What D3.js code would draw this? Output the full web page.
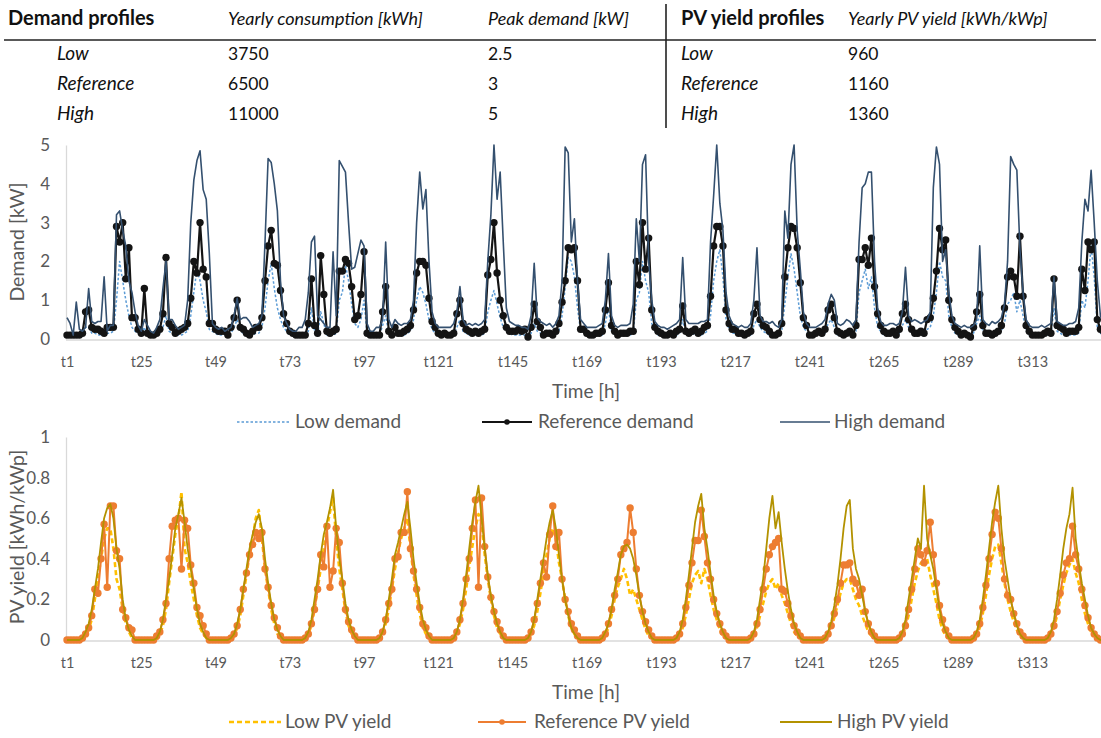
<!DOCTYPE html>
<html>
<head>
<meta charset="utf-8">
<script src="https://cdn.jsdelivr.net/npm/d3@7/dist/d3.min.js"></script>
<style>
	body{margin:0;background:#fff;}
	svg{display:block;font-family:Lato,'Open Sans',sans-serif;}
</style>
</head>
<body>
<div id="container"></div>
<script>
// ---- table ----
var demandHeader = ['Demand profiles','Yearly consumption [kWh]','Peak demand [kW]'];
var pvHeader = ['PV yield profiles','Yearly PV yield [kWh/kWp]'];
var profileNames = ['Low','Reference','High'];
var yearlyConsumption = ['3750','6500','11000'];
var peakDemand = ['2.5','3','5'];
var yearlyPv = ['960','1160','1360'];

// ---- axes ----
var xTickLabels = ['t1','t25','t49','t73','t97','t121','t145','t169','t193','t217','t241','t265','t289','t313'];
var demandTicks = [0,1,2,3,4,5];
var pvTicks = [0,0.2,0.4,0.6,0.8,1];

// ---- hourly demand [kW], one row per day ----
var demandLow = [
	0.1,0.1,0.1,0.1,0.1,0.1,0.3,0.3,0.15,0.15,0.1,0.1,0.1,0.15,0.15,0.2,1.0,2.0,1.5,1.0,0.6,0.3,0.2,0.15,
	0.1,0.3,0.1,0.1,0.1,0.1,0.15,0.3,0.6,0.2,0.15,0.1,0.1,0.1,0.15,0.2,0.6,1.2,1.8,1.5,1.0,0.7,0.25,0.2,
	0.15,0.1,0.1,0.1,0.1,0.15,0.3,0.5,0.2,0.15,0.1,0.1,0.1,0.15,0.15,0.3,0.8,1.5,1.95,1.3,0.8,0.5,0.3,0.2,
	0.1,0.1,0.1,0.1,0.1,0.1,0.2,0.8,0.2,0.1,0.7,0.4,0.1,0.1,0.1,0.15,1.0,1.2,1.9,1.5,0.9,0.4,0.3,0.5,
	1.0,0.1,0.1,0.1,0.1,0.1,0.35,0.6,0.15,0.1,0.15,0.1,0.1,0.1,0.15,0.2,0.5,1.0,1.35,1.2,0.9,0.5,0.25,0.15,
	0.1,0.1,0.1,0.1,0.1,0.1,0.3,0.5,0.2,0.15,0.1,0.1,0.1,0.1,0.1,0.15,0.7,1.0,1.25,0.9,0.55,0.3,0.2,0.15,
	0.1,0.1,0.1,0.1,0.1,0.05,0.15,0.4,0.2,0.15,0.1,0.1,0.1,0.1,0.1,0.2,0.6,1.3,2.1,2.0,1.6,0.8,0.2,0.15,
	0.1,0.1,0.1,0.1,0.1,0.1,0.4,0.8,0.2,0.1,0.1,0.1,0.1,0.1,0.1,0.15,1.0,1.2,2.0,1.5,1.2,0.4,0.2,0.1,
	0.1,0.1,0.1,0.1,0.1,0.1,0.15,0.5,0.15,0.1,0.1,0.15,0.1,0.1,0.15,0.2,0.6,1.5,2.0,2.3,1.6,0.5,0.25,0.15,
	0.15,0.1,0.1,0.1,0.1,0.1,0.35,0.5,0.3,0.2,0.15,0.1,0.1,0.1,0.1,0.2,0.9,1.6,2.2,1.8,1.2,0.6,0.3,0.2,
	0.1,0.1,0.1,0.1,0.1,0.15,0.4,0.5,0.3,0.1,0.1,0.1,0.1,0.1,0.1,0.2,1.2,1.5,1.8,1.3,1.6,0.8,0.3,0.2,
	0.1,0.1,0.1,0.1,0.1,0.15,0.35,0.5,0.3,0.15,0.1,0.1,0.1,0.1,0.25,0.3,0.6,1.2,2.0,1.6,1.5,0.6,0.3,0.15,
	0.1,0.1,0.1,0.1,0.05,0.15,0.4,0.6,0.2,0.1,0.1,0.1,0.1,0.1,0.2,0.4,0.9,1.0,1.2,0.7,1.0,0.6,0.2,0.1,
	0.1,0.1,0.1,0.1,0.1,0.1,0.1,0.8,0.2,0.15,0.1,0.1,0.1,0.1,0.1,0.15,1.0,0.8,1.5,2.4,1.6,0.3,0.15,0.1
];
var demandRef = [
	0.1,0.1,0.1,0.1,0.1,0.15,0.7,0.75,0.3,0.25,0.25,0.2,0.15,0.3,0.3,0.3,2.9,2.5,3.0,1.55,2.35,0.55,0.55,0.25,
	0.15,1.3,0.15,0.1,0.1,0.15,0.25,0.65,2.1,0.4,0.3,0.15,0.2,0.25,0.3,0.4,1.05,2.0,1.7,3.0,1.8,1.6,0.4,0.4,
	0.25,0.2,0.2,0.2,0.1,0.3,0.55,1.0,0.3,0.25,0.15,0.1,0.2,0.3,0.3,0.55,1.5,2.4,2.8,1.95,1.9,1.25,0.65,0.4,
	0.2,0.15,0.1,0.1,0.1,0.1,0.4,1.55,0.35,0.15,2.15,1.15,0.2,0.15,0.2,0.25,1.75,1.75,2.05,1.95,1.35,0.5,0.6,1.15,
	2.25,0.15,0.1,0.1,0.1,0.1,0.7,1.35,0.2,0.1,0.3,0.15,0.15,0.2,0.25,0.35,0.75,1.7,2.0,2.0,1.9,1.05,0.45,0.3,
	0.15,0.1,0.15,0.1,0.1,0.15,0.65,1.0,0.4,0.25,0.2,0.15,0.2,0.15,0.2,0.25,1.65,2.05,3.0,1.7,1.0,0.6,0.3,0.2,
	0.2,0.2,0.25,0.2,0.25,0.05,0.3,0.9,0.45,0.3,0.1,0.15,0.15,0.1,0.2,0.4,0.95,1.5,2.35,2.3,2.35,1.5,0.25,0.25,
	0.15,0.1,0.1,0.15,0.15,0.2,0.75,1.45,0.35,0.2,0.1,0.15,0.15,0.15,0.2,0.2,2.0,1.4,3.0,1.8,2.6,0.75,0.3,0.2,
	0.15,0.1,0.1,0.15,0.1,0.2,0.25,0.85,0.2,0.15,0.2,0.25,0.15,0.2,0.3,0.35,1.1,2.4,2.9,2.9,2.4,0.75,0.4,0.25,
	0.25,0.15,0.15,0.1,0.15,0.2,0.65,0.9,0.5,0.35,0.3,0.2,0.1,0.1,0.15,0.4,1.6,2.35,2.9,2.85,2.35,1.45,0.55,0.35,
	0.1,0.1,0.15,0.2,0.15,0.25,0.75,0.9,0.55,0.2,0.15,0.1,0.15,0.2,0.1,0.35,2.05,2.05,2.35,1.9,2.6,1.35,0.65,0.35,
	0.2,0.15,0.15,0.2,0.1,0.25,0.65,0.9,0.5,0.25,0.15,0.15,0.2,0.15,0.5,0.55,1.05,1.75,2.85,2.3,2.55,1.0,0.5,0.3,
	0.2,0.1,0.15,0.1,0.05,0.3,0.7,1.15,0.35,0.15,0.15,0.1,0.15,0.2,0.35,0.8,1.6,1.75,1.6,1.1,2.65,1.1,0.35,0.2,
	0.1,0.1,0.1,0.1,0.15,0.2,0.15,1.55,0.35,0.3,0.25,0.15,0.2,0.2,0.2,0.3,1.8,1.25,2.5,2.3,2.5,0.5,0.25,0.2
];
var demandHigh = [
	0.55,0.4,0.1,0.95,0.25,0.2,0.3,1.3,0.45,0.4,0.45,0.45,1.6,0.2,0.35,0.35,3.2,3.3,2.8,2.4,1.5,1.2,0.7,0.35,
	0.2,0.5,0.35,0.2,0.15,0.3,0.5,1.3,2.0,0.5,0.5,0.35,0.25,0.3,0.35,1.0,3.0,4.1,4.6,4.85,3.85,3.6,2.2,0.4,
	0.3,0.25,0.3,0.2,0.25,0.3,0.6,1.05,0.5,0.55,0.55,0.45,0.3,0.35,0.4,0.6,2.5,4.65,4.55,4.0,3.3,1.5,0.6,0.4,
	0.25,0.2,0.2,0.3,0.3,0.5,1.2,2.5,2.65,0.6,0.5,0.4,0.3,0.3,2.25,0.6,4.6,4.45,4.3,3.0,1.8,1.85,2.2,2.55,
	2.4,0.4,0.2,0.2,0.3,0.3,0.5,2.5,0.5,0.3,0.5,0.4,0.35,0.4,0.4,0.5,1.0,3.0,4.3,3.35,3.85,2.0,0.7,0.4,
	0.3,0.3,0.3,0.3,0.3,0.4,0.7,1.35,0.5,0.35,0.4,0.35,0.4,0.35,0.4,0.5,2.0,3.2,5.0,3.6,4.3,2.5,0.8,0.45,
	0.4,0.35,0.35,0.3,0.3,0.25,0.6,1.95,0.55,0.45,0.4,0.35,0.4,0.3,0.4,0.6,1.5,4.95,4.8,2.5,3.1,1.5,0.5,0.4,
	0.3,0.3,0.3,0.3,0.35,0.4,1.0,2.2,0.6,0.35,0.3,0.35,0.35,0.35,0.4,0.9,3.1,2.0,4.5,4.75,2.0,1.0,0.45,0.35,
	0.3,0.3,0.25,0.3,0.35,0.4,0.5,2.1,0.5,0.4,0.4,0.4,0.4,0.45,0.45,0.5,2.5,3.7,5.0,3.5,2.8,1.2,0.6,0.4,
	0.35,0.3,0.35,0.3,0.3,0.4,1.0,2.35,0.6,0.45,0.45,0.4,0.45,0.35,0.3,0.5,3.3,2.6,4.5,5.0,2.8,1.8,0.7,0.4,
	0.3,0.3,0.3,0.35,0.4,0.5,0.9,1.15,1.0,0.4,0.35,0.4,0.5,0.45,0.35,0.5,2.5,3.9,4.0,4.3,4.3,2.0,0.8,0.45,
	0.35,0.35,0.4,0.4,0.35,0.4,0.7,1.85,0.6,0.45,0.5,0.45,0.4,0.45,0.5,0.7,3.9,4.95,4.5,2.0,2.3,1.2,0.6,0.4,
	0.35,0.3,0.35,0.3,0.3,0.35,0.5,2.4,0.5,0.4,0.35,0.45,0.4,0.45,0.55,0.9,2.0,4.7,4.5,4.35,2.3,1.2,0.5,0.35,
	0.3,0.3,0.3,0.35,0.3,0.35,0.4,1.6,0.45,0.4,0.35,0.35,0.4,0.4,0.45,0.8,2.5,3.6,3.3,4.35,3.0,1.5,0.6,0.4
];

// ---- hourly PV yield [kWh/kWp], one row per day ----
var pvLow = [
	0,0,0,0,0,0,0.02,0.05,0.1,0.2,0.3,0.4,0.5,0.55,0.55,0.45,0.3,0.25,0.15,0.08,0.04,0.01,0,0,
	0,0,0,0,0,0,0.03,0.07,0.15,0.28,0.4,0.52,0.6,0.73,0.45,0.38,0.28,0.2,0.12,0.06,0.03,0.01,0,0,
	0,0,0,0,0,0,0.02,0.06,0.12,0.22,0.32,0.42,0.5,0.6,0.64,0.5,0.35,0.25,0.15,0.08,0.03,0.01,0,0,
	0,0,0,0,0,0,0.03,0.07,0.15,0.25,0.35,0.45,0.55,0.63,0.7,0.5,0.35,0.25,0.14,0.07,0.03,0.01,0,0,
	0,0,0,0,0,0,0.03,0.08,0.15,0.25,0.35,0.43,0.5,0.55,0.6,0.45,0.32,0.22,0.13,0.06,0.03,0.01,0,0,
	0,0,0,0,0,0,0.03,0.08,0.15,0.25,0.36,0.46,0.55,0.62,0.58,0.42,0.3,0.2,0.12,0.06,0.03,0.01,0,0,
	0,0,0,0,0,0,0.03,0.07,0.14,0.23,0.33,0.42,0.5,0.55,0.5,0.38,0.3,0.2,0.12,0.06,0.03,0.01,0,0,
	0,0,0,0,0,0,0.02,0.06,0.12,0.2,0.26,0.3,0.35,0.3,0.22,0.25,0.2,0.15,0.1,0.05,0.02,0.01,0,0,
	0,0,0,0,0,0,0.02,0.06,0.12,0.2,0.28,0.32,0.34,0.28,0.35,0.3,0.22,0.15,0.1,0.05,0.02,0.01,0,0,
	0,0,0,0,0,0,0.02,0.06,0.12,0.18,0.24,0.28,0.3,0.25,0.28,0.22,0.18,0.13,0.08,0.04,0.02,0.01,0,0,
	0,0,0,0,0,0,0.02,0.06,0.11,0.17,0.23,0.28,0.3,0.3,0.25,0.2,0.17,0.12,0.08,0.04,0.02,0.01,0,0,
	0,0,0,0,0,0,0.02,0.06,0.12,0.2,0.28,0.34,0.38,0.36,0.4,0.32,0.25,0.18,0.1,0.05,0.02,0.01,0,0,
	0,0,0,0,0,0,0.02,0.06,0.13,0.22,0.32,0.4,0.46,0.47,0.38,0.28,0.2,0.14,0.09,0.05,0.02,0.01,0,0,
	0,0,0,0,0,0,0.02,0.06,0.12,0.2,0.27,0.33,0.37,0.4,0.33,0.28,0.2,0.13,0.08,0.04,0.02,0.01,0,0
];
var pvRef = [
	0,0,0,0,0,0.01,0.03,0.06,0.12,0.25,0.23,0.4,0.57,0.26,0.66,0.66,0.44,0.4,0.15,0.11,0.06,0.05,0,0,
	0,0,0,0,0,0.02,0.04,0.1,0.18,0.4,0.56,0.59,0.6,0.35,0.59,0.55,0.37,0.28,0.16,0.12,0.07,0.03,0,0,
	0,0,0,0,0,0.01,0.03,0.07,0.15,0.25,0.33,0.42,0.47,0.53,0.5,0.53,0.35,0.26,0.17,0.11,0.06,0.02,0,0,
	0,0,0,0,0,0.01,0.03,0.08,0.15,0.25,0.42,0.36,0.56,0.26,0.34,0.55,0.48,0.28,0.15,0.09,0.05,0.02,0,0,
	0,0,0,0,0,0.01,0.04,0.1,0.18,0.25,0.4,0.41,0.53,0.53,0.73,0.45,0.34,0.25,0.16,0.08,0.06,0.02,0,0,
	0,0,0,0,0,0.01,0.04,0.1,0.18,0.3,0.4,0.55,0.69,0.26,0.7,0.46,0.31,0.21,0.14,0.09,0.05,0.02,0,0,
	0,0,0,0,0,0.01,0.04,0.1,0.18,0.28,0.38,0.31,0.52,0.66,0.46,0.53,0.3,0.2,0.14,0.08,0.05,0.02,0,0,
	0,0,0,0,0,0.01,0.03,0.08,0.15,0.22,0.3,0.42,0.45,0.48,0.65,0.53,0.35,0.22,0.14,0.09,0.05,0.02,0,0,
	0,0,0,0,0,0.01,0.03,0.08,0.16,0.27,0.38,0.49,0.49,0.64,0.51,0.38,0.3,0.2,0.13,0.08,0.04,0.02,0,0,
	0,0,0,0,0,0.01,0.03,0.08,0.15,0.25,0.35,0.42,0.46,0.48,0.5,0.25,0.24,0.18,0.12,0.07,0.04,0.02,0,0,
	0,0,0,0,0,0.01,0.03,0.07,0.13,0.2,0.28,0.37,0.37,0.38,0.3,0.28,0.22,0.25,0.14,0.08,0.04,0.02,0,0,
	0,0,0,0,0,0.01,0.03,0.07,0.15,0.25,0.35,0.45,0.42,0.38,0.44,0.58,0.42,0.28,0.17,0.1,0.05,0.02,0,0,
	0,0,0,0,0,0.01,0.03,0.08,0.16,0.27,0.4,0.52,0.63,0.6,0.45,0.3,0.22,0.2,0.13,0.08,0.04,0.02,0,0,
	0,0,0,0,0,0.01,0.03,0.07,0.14,0.23,0.32,0.38,0.4,0.56,0.42,0.35,0.25,0.17,0.11,0.06,0.03,0.01,0,0
];
var pvHigh = [
	0,0,0,0,0,0.01,0.04,0.08,0.15,0.25,0.35,0.48,0.6,0.65,0.67,0.6,0.45,0.35,0.2,0.1,0.05,0.02,0,0,
	0,0,0,0,0,0.01,0.04,0.1,0.2,0.3,0.42,0.55,0.62,0.7,0.58,0.45,0.35,0.25,0.15,0.08,0.04,0.01,0,0,
	0,0,0,0,0,0.01,0.03,0.08,0.15,0.25,0.35,0.45,0.52,0.58,0.62,0.55,0.4,0.28,0.18,0.1,0.05,0.02,0,0,
	0,0,0,0,0,0.01,0.04,0.1,0.2,0.3,0.42,0.52,0.58,0.65,0.74,0.55,0.4,0.3,0.18,0.1,0.05,0.02,0,0,
	0,0,0,0,0,0.01,0.04,0.1,0.2,0.3,0.42,0.48,0.55,0.62,0.68,0.55,0.4,0.28,0.18,0.1,0.05,0.02,0,0,
	0,0,0,0,0,0.01,0.04,0.1,0.2,0.32,0.45,0.58,0.68,0.76,0.6,0.45,0.32,0.22,0.14,0.08,0.04,0.01,0,0,
	0,0,0,0,0,0.01,0.04,0.1,0.2,0.3,0.4,0.5,0.58,0.64,0.55,0.42,0.3,0.2,0.12,0.06,0.03,0.01,0,0,
	0,0,0,0,0,0.01,0.04,0.08,0.15,0.25,0.33,0.42,0.46,0.47,0.45,0.4,0.32,0.22,0.14,0.08,0.04,0.01,0,0,
	0,0,0,0,0,0.01,0.04,0.1,0.2,0.32,0.45,0.58,0.66,0.72,0.55,0.45,0.33,0.22,0.14,0.08,0.04,0.01,0,0,
	0,0,0,0,0,0.01,0.04,0.1,0.2,0.3,0.45,0.6,0.71,0.55,0.63,0.48,0.35,0.24,0.15,0.08,0.04,0.01,0,0,
	0,0,0,0,0,0.01,0.04,0.09,0.17,0.27,0.4,0.55,0.66,0.69,0.45,0.35,0.3,0.22,0.14,0.08,0.04,0.01,0,0,
	0,0,0,0,0,0.01,0.04,0.1,0.2,0.3,0.4,0.5,0.45,0.76,0.5,0.42,0.35,0.25,0.15,0.08,0.04,0.01,0,0,
	0,0,0,0,0,0.01,0.04,0.1,0.2,0.32,0.45,0.58,0.68,0.76,0.55,0.4,0.3,0.2,0.13,0.07,0.03,0.01,0,0,
	0,0,0,0,0,0.01,0.04,0.1,0.2,0.32,0.45,0.55,0.62,0.75,0.5,0.38,0.28,0.2,0.12,0.06,0.03,0.01,0,0
];

var hours = demandRef.map(function(d,i){ return 't' +(i+1); });

var init = function(){

	return {

		w:1101,
		h:738,

		textColor:'#595959',
		axisColor:'#d9d9d9',

		generate:function(){
			self.svg = d3.select('#container').append('svg')
				.attr('width',self.w)
				.attr('height',self.h);

			self.x = d3.scalePoint()
				.domain(hours)
				.range([67,67 +3.094*(hours.length-1)]);

			self.drawTable();

			//demand chart
			self.drawChart({
				yDomain:[0,5],
				yRange:[339,145],
				ticks:demandTicks,
				tickFormat:d3.format('d'),
				title:'Demand [kW]',
				titleY:242,
				legendY:422,
				series:[
					{name:'Low demand',values:demandLow,color:'#5b9bd5',width:1.5,dash:'2.5,2',lx:[237,290],tx:295},
					{name:'Reference demand',values:demandRef,color:'#141414',width:2.2,dots:3.7,lx:[482,532],tx:538},
					{name:'High demand',values:demandHigh,color:'#34506f',width:1.6,lx:[780,830],tx:834}
				]
			});

			//pv chart
			self.drawChart({
				yDomain:[0,1],
				yRange:[640,437],
				ticks:pvTicks,
				tickFormat:function(d){ return d === 0 || d === 1 ? d : d3.format('.1f')(d); },
				title:'PV yield [kWh/kWp]',
				titleY:537,
				legendY:722,
				series:[
					{name:'Low PV yield',values:pvLow,color:'#ffc000',width:2.6,dash:'5,3',lx:[229,281],tx:285},
					{name:'Reference PV yield',values:pvRef,color:'#ed7d31',width:2,dots:3.7,lx:[478,526],tx:534},
					{name:'High PV yield',values:pvHigh,color:'#b39200',width:1.8,lx:[780,832],tx:837}
				]
			});
		},
		drawTable:function(){
			var t = self.svg.append('g').classed('table',true)
				.style('font-size','17.5px')
				.style('fill','#111');

			var cols = [8,228,488],
				pvCols = [681,848],
				rowY = [54,84,114];

			//header cells: bold first column, italic the rest
			function header(labels,xs){
				labels.forEach(function(d,i){
					t.append('text')
						.attr('x',xs[i]).attr('y',25)
						.style('font-weight',i === 0 ? 'bold' : null)
						.style('font-style',i === 0 ? null : 'italic')
						.style('font-size',i === 0 ? '20px' : '18px')
						.text(d);
				});
			}
			header(demandHeader,cols);
			header(pvHeader,pvCols);

			t.append('line')
				.attr('x1',4).attr('x2',1096)
				.attr('y1',40).attr('y2',40)
				.style('stroke','#222').style('stroke-width',1.6);
			t.append('line')
				.attr('x1',666).attr('x2',666)
				.attr('y1',4).attr('y2',128)
				.style('stroke','#222').style('stroke-width',1.6);

			profileNames.forEach(function(d,i){
				var y = rowY[i] +6;
				t.append('text').attr('x',57).attr('y',y).style('font-style','italic').style('font-size','19px').text(d);
				t.append('text').attr('x',cols[1]).attr('y',y).text(yearlyConsumption[i]);
				t.append('text').attr('x',cols[2]).attr('y',y).text(peakDemand[i]);
				t.append('text').attr('x',pvCols[0]).attr('y',y).style('font-style','italic').style('font-size','19px').text(d);
				t.append('text').attr('x',pvCols[1]).attr('y',y).text(yearlyPv[i]);
			});
		},
		drawChart:function(o){
			var x = self.x;
			var y = d3.scaleLinear().domain(o.yDomain).range(o.yRange);
			var g = self.svg.append('g').classed('chart',true);

			var yAxis = g.append('g')
				.attr('transform','translate(66,0)')
				.call(d3.axisLeft(y).tickValues(o.ticks).tickFormat(o.tickFormat).tickSize(0).tickPadding(16));
			var xAxis = g.append('g')
				.attr('transform','translate(0,' +(y(0)+1) +')')
				.call(d3.axisBottom(x).tickValues(xTickLabels).tickSize(0).tickPadding(17));

			[yAxis,xAxis].forEach(function(a){
				a.select('.domain').style('stroke',self.axisColor).style('stroke-width',1.3);
				a.selectAll('text')
					.style('fill',self.textColor)
					.style('font-family','Lato,sans-serif');
			});
			yAxis.selectAll('text').style('font-size','17px');
			xAxis.selectAll('text').style('font-size','14.5px');
			xAxis.select('.domain').attr('d','M66,0H1101');

			//axis titles
			g.append('text')
				.attr('transform','translate(24,' +o.titleY +')rotate(-90)')
				.attr('text-anchor','middle')
				.style('font-size','19.5px')
				.style('fill',self.textColor)
				.text(o.title);
			g.append('text')
				.attr('x',586).attr('y',y(0) +59)
				.attr('text-anchor','middle')
				.style('font-size','19px')
				.style('fill',self.textColor)
				.text('Time [h]');

			var line = d3.line()
				.x(function(d,i){ return x(hours[i]); })
				.y(function(d){ return y(d); });

			o.series.forEach(function(s){
				g.append('path')
					.datum(s.values)
					.attr('d',line)
					.style('fill','none')
					.style('stroke',s.color)
					.style('stroke-width',s.width)
					.style('stroke-dasharray',s.dash || null)
					.style('stroke-linejoin','round');
				if(s.dots){
					g.append('g').selectAll('circle')
						.data(s.values)
						.enter().append('circle')
						.attr('cx',function(d,i){ return x(hours[i]); })
						.attr('cy',function(d){ return y(d); })
						.attr('r',s.dots)
						.style('fill',s.color);
				}

				//legend entry
				var ly = o.legendY;
				g.append('line')
					.attr('x1',s.lx[0]).attr('x2',s.lx[1])
					.attr('y1',ly).attr('y2',ly)
					.style('stroke',s.color)
					.style('stroke-width',s.width)
					.style('stroke-dasharray',s.dash || null);
				if(s.dots){
					g.append('circle')
						.attr('cx',(s.lx[0]+s.lx[1])/2).attr('cy',ly)
						.attr('r',2.8)
						.style('fill',s.color);
				}
				g.append('text')
					.attr('x',s.tx).attr('y',ly +6)
					.style('font-size','19px')
					.style('fill',self.textColor)
					.text(s.name);
			});
		}
	}
}

var self = init();
self.generate();
</script>
</body>
</html>
